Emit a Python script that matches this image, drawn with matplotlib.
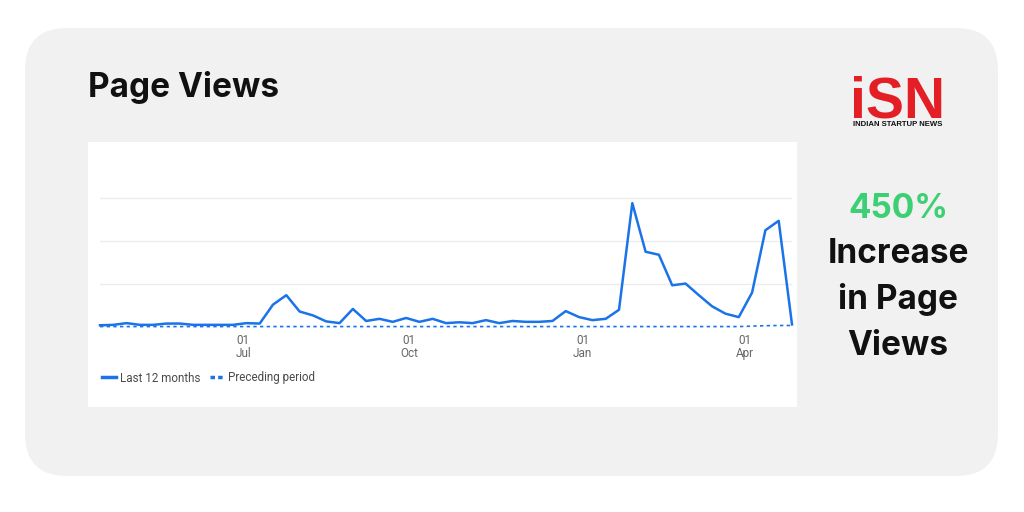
import matplotlib
matplotlib.use("Agg")
from matplotlib import pyplot as plt
from matplotlib.patches import FancyBboxPatch, Rectangle
from matplotlib.lines import Line2D

# weekly page views, in units of one gridline step
last_12_months = [0.04, 0.05, 0.09, 0.05, 0.05, 0.08, 0.08, 0.05, 0.05, 0.05,
                  0.05, 0.09, 0.08, 0.52, 0.74, 0.36, 0.27, 0.13, 0.09, 0.42,
                  0.14, 0.19, 0.12, 0.21, 0.12, 0.19, 0.09, 0.11, 0.09, 0.16,
                  0.09, 0.14, 0.12, 0.12, 0.14, 0.37, 0.23, 0.16, 0.19, 0.40,
                  2.88, 1.75, 1.68, 0.97, 1.01, 0.74, 0.48, 0.31, 0.23, 0.80,
                  2.25, 2.47, 0.06]
preceding_period = [0.01] * 49 + [0.02, 0.03, 0.035, 0.035]
tick_pos = [10.76, 23.25, 36.27, 48.46]
tick_labels = ["01\nJul", "01\nOct", "01\nJan", "01\nApr"]
grid_levels = [1, 2, 3]
right_lines = ["Increase", "in Page", "Views"]

blue = "#1a73e8"
fig = plt.figure(figsize=(10.24, 5.12), dpi=100)

# background card, pixel coordinates
bg = fig.add_axes([0, 0, 1, 1])
bg.set_xlim(0, 1024)
bg.set_ylim(512, 0)
bg.axis("off")
bg.add_patch(FancyBboxPatch((25, 28), 973, 448, boxstyle="round,pad=0,rounding_size=42",
                            facecolor="#f1f1f1", edgecolor="none"))
bg.add_patch(Rectangle((88, 142), 709, 265, facecolor="white", edgecolor="none"))

bg.text(88, 97, "Page Views", fontsize=24, fontweight="bold", family="Inter",
        color="#111111", va="baseline", ha="left")
bg.text(898, 218, "450%", fontsize=24, fontweight="bold", family="Inter",
        color="#3ccf74", va="baseline", ha="center")
for i, s in enumerate(right_lines):
    bg.text(898, 263 + 46 * i, s, fontsize=24, fontweight="bold", family="Inter",
            color="#111111", va="baseline", ha="center")

# logo
bg.text(898, 117, "iSN", fontsize=41, fontweight="heavy", family="Liberation Sans",
        color="#e31e24", va="baseline", ha="center")
bg.text(898, 124, "INDIAN STARTUP NEWS", fontsize=5.6, fontweight="bold",
        family="Liberation Sans", color="#111111", va="center", ha="center")

# chart
ax = fig.add_axes([100 / 1024, 185 / 512, 692 / 1024, 172 / 512])
x = list(range(len(last_12_months)))
for g in grid_levels:
    ax.axhline(g, color="#ececec", lw=1, zorder=0)
ax.plot(x, last_12_months, color=blue, lw=1.8, clip_on=False)
ax.plot(x, preceding_period, color=blue, lw=1.2, ls=(0, (2, 2)), clip_on=False)
ax.set_xlim(0, len(last_12_months) - 1)
ax.set_ylim(0, 4)
ax.set_yticks([])
ax.set_xticks(tick_pos, tick_labels)
ax.tick_params(axis="x", length=0, pad=5, labelsize=8.5, labelcolor="#666666")
for t in ax.get_xticklabels():
    t.set_family("Roboto")
    t.set_linespacing(1.05)
for s in ax.spines.values():
    s.set_visible(False)
ax.set_facecolor("none")

h1 = Line2D([], [], color=blue, lw=2.5)
h2 = Line2D([], [], color=blue, lw=2.5, ls=(0, (1.3, 0.9)))
leg = fig.legend(handles=[h1, h2], labels=["Last 12 months", "Preceding period"],
                 loc="center left", bbox_to_anchor=(102 / 1024, 1 - 378 / 512),
                 frameon=False, ncol=2, handlelength=1.2, handletextpad=0.35,
                 columnspacing=0.8, borderaxespad=0, borderpad=0,
                 prop={"family": "Roboto", "size": 8.4})
for t in leg.get_texts():
    t.set_color("#4a4a4a")

fig.savefig("out.png", dpi=100, facecolor="white")
